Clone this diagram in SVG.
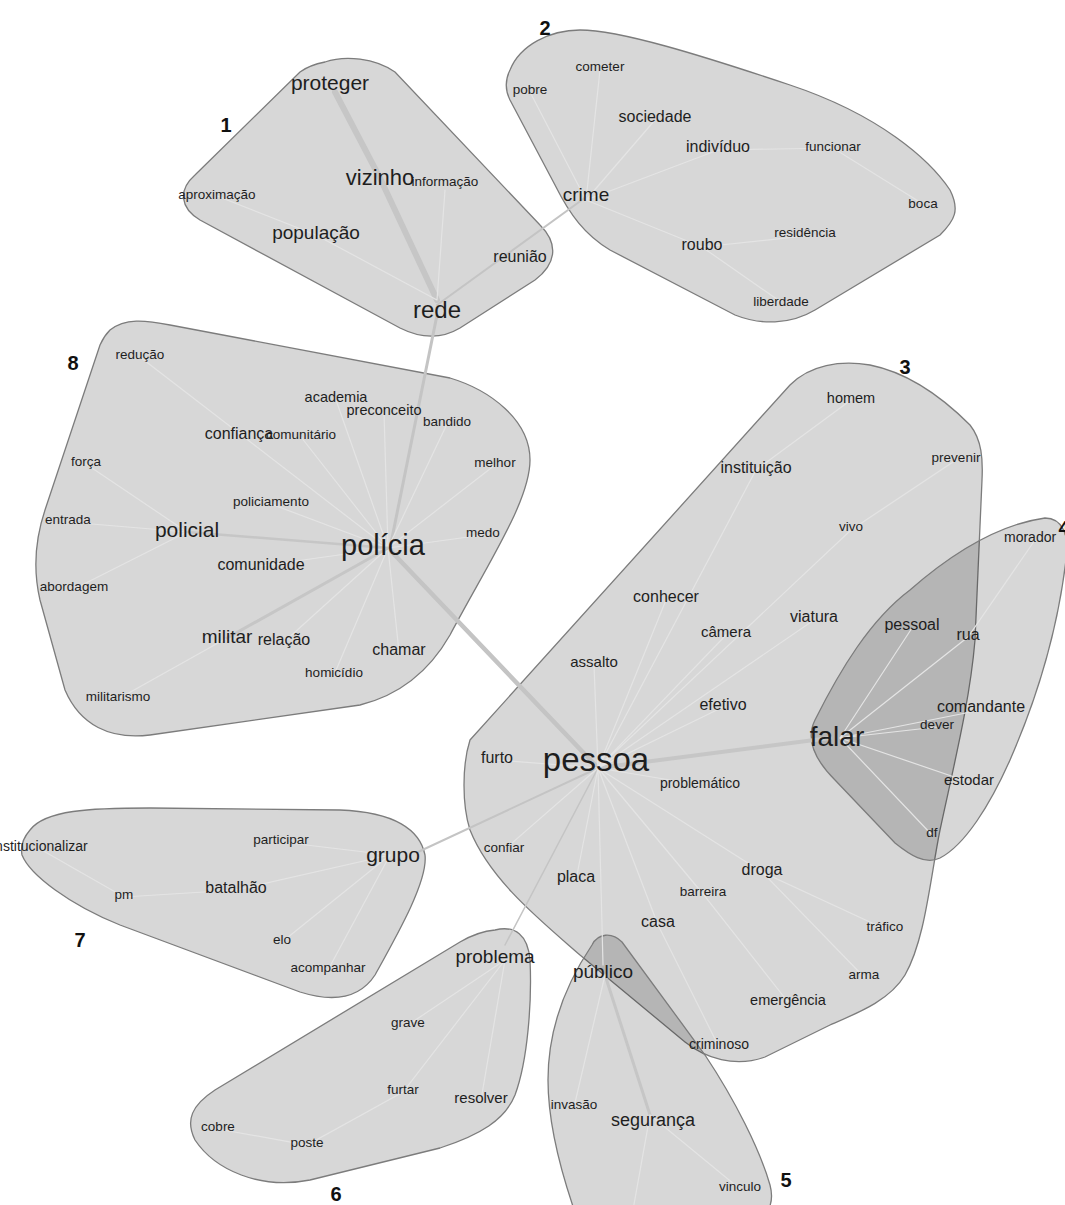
<svg xmlns="http://www.w3.org/2000/svg" width="1065" height="1205" viewBox="0 0 1065 1205">
<style>
.cl{fill:#000;fill-opacity:0.155;stroke:#7c7c7c;stroke-width:1.3}
.e{stroke:#e4e4e4;stroke-width:1.2;fill:none;stroke-linecap:round}
.t{stroke:#c6c6c6;fill:none;stroke-linecap:round}
.x{stroke:#c4c4c4;fill:none;stroke-linecap:round}
text{font-family:"Liberation Sans",Arial,sans-serif;fill:#1e1e1e;text-anchor:middle}
.s{font-size:13.5px}
.m{font-size:16px}
.num{font-size:20px;font-weight:bold;fill:#111}
</style>
<rect width="1065" height="1205" fill="#fff"/>
<g id="clusters">
<path id="c1" class="cl" d="M325,62 C345,55 375,58 395,72 L540,225 C560,245 555,265 535,280 L460,328 C440,340 420,338 400,328 L200,220 C180,208 178,190 195,175 L300,72 C308,66 315,64 325,62 Z"/>
<path id="c2" class="cl" d="M510,70 C520,45 550,30 580,30 C620,30 700,55 790,85 C880,115 930,160 950,190 C960,210 955,220 940,235 L815,310 C790,325 760,325 735,315 L610,250 C585,235 570,215 555,185 L510,100 C505,90 505,80 510,70 Z"/>
<path id="c8" class="cl" d="M110,330 C125,318 145,320 170,325 L450,378 C490,390 530,420 530,460 C530,500 490,560 450,635 C430,670 400,695 360,705 L150,735 C110,740 80,725 65,690 L40,600 C33,570 35,540 45,510 L100,345 C103,338 106,334 110,330 Z"/>
<path id="c3" class="cl" d="M470,740 L790,385 C810,365 840,360 870,365 C905,372 940,395 970,425 C982,440 983,460 982,480 L975,640 C970,700 955,760 940,830 C930,880 925,940 905,975 C890,1000 860,1012 830,1025 L765,1057 C735,1068 705,1058 685,1042 L580,955 C540,920 490,880 470,830 C462,805 462,765 470,740 Z"/>
<path id="c4" class="cl" d="M1045,518 C1062,518 1070,535 1066,560 C1060,610 1045,680 1010,760 C990,805 965,845 940,858 C925,865 910,855 895,843 L835,780 C815,760 805,740 815,720 C840,670 870,620 910,590 C950,555 995,525 1045,518 Z"/>
<path id="c5" class="cl" d="M592,945 C598,933 612,932 622,942 L705,1055 C735,1100 760,1150 770,1185 C774,1200 770,1212 760,1218 L577,1218 C560,1170 548,1120 548,1080 C548,1030 565,985 592,945 Z"/>
<path id="c6" class="cl" d="M495,930 C515,925 528,935 530,960 C532,1000 528,1060 515,1095 C505,1120 480,1135 440,1148 L310,1180 C260,1190 215,1170 195,1140 C185,1120 192,1105 215,1090 L460,942 C472,935 483,931 495,930 Z"/>
<path id="c7" class="cl" d="M30,830 C45,810 90,808 150,808 L340,810 C395,812 420,830 425,855 C428,880 400,930 375,975 C360,998 335,1003 300,992 L120,925 C70,905 30,875 22,855 C20,845 24,837 30,830 Z"/>
</g>
<g id="connectors">
<path class="x" stroke-width="2" d="M437,305 L586,197"/>
<path class="x" stroke-width="3" d="M437,315 L390,548"/>
<path class="x" stroke-width="4.5" d="M390,550 L598,768"/>
<path class="x" stroke-width="2" d="M598,768 L418,852"/>
<path class="x" stroke-width="1.5" d="M598,768 L505,945"/>
<path class="t" stroke-width="6" d="M335,92 L380,178 L437,300"/>
<path class="e" d="M437,300 L445,190 M437,300 L316,235 L217,196"/>
<path class="e" d="M586,200 L530,92 M586,200 L600,70 M586,200 L655,120 M586,200 L718,150 L833,148 L923,204 M586,200 L702,247 L805,236 M702,247 L781,302"/>
<path class="e" d="M388,548 L140,357 M388,548 L336,400 M388,548 L384,412 M388,548 L447,424 M388,548 L495,465 M388,548 L483,535 M388,548 L261,566 M388,548 L284,642 M388,548 L399,652 M388,548 L334,675 M388,548 L271,504 M388,548 L301,437 M187,532 L86,464 M187,532 L68,522 M187,532 L74,589 M227,638 L118,699"/>
<path class="t" stroke-width="2.5" d="M388,548 L187,532"/>
<path class="t" stroke-width="3" d="M388,548 L227,638"/>
<path class="t" stroke-width="4" d="M598,768 L830,738"/>
<path class="e" d="M598,768 L497,760 M598,768 L594,665 M598,768 L666,600 M598,768 L726,635 M598,768 L851,530 L956,460 M598,768 L814,620 M598,768 L723,707 M598,768 L756,470 L851,400 M598,768 L700,785 M598,768 L504,850 M598,768 L576,880 M598,768 L603,965 M598,768 L658,925 L719,1047 M598,768 L703,894 L788,1002 M598,768 L762,872 L885,929 M762,872 L864,977"/>
<path class="e" d="M840,738 L912,628 M840,738 L968,637 L1035,540 M840,738 L937,727 M840,738 L981,710 M840,738 L969,782 M840,738 L932,835"/>
<path class="t" stroke-width="3" d="M605,975 L650,1115"/>
<path class="e" d="M605,975 L574,1107 M650,1115 L740,1189 M650,1115 L633,1210"/>
<path class="e" d="M505,960 L408,1025 M505,960 L403,1092 L307,1145 L218,1129 M505,960 L481,1100"/>
<path class="e" d="M390,855 L281,842 M390,855 L236,890 L124,897 L40,849 M390,855 L282,942 M390,855 L328,970"/>
</g>
<g id="labels">
<text class="num" x="226" y="132">1</text>
<text class="num" x="545" y="35">2</text>
<text class="num" x="905" y="374">3</text>
<text class="num" x="1064" y="535">4</text>
<text class="num" x="786" y="1187">5</text>
<text class="num" x="336" y="1201">6</text>
<text class="num" x="80" y="947">7</text>
<text class="num" x="73" y="370">8</text>
</g>
<g id="n-proteger"><text x="330" y="90" font-size="21">proteger</text></g>
<g id="n-informacao"><text class="s" x="445" y="186">informação</text></g>
<g id="n-vizinho"><text x="380" y="185" font-size="22">vizinho</text></g>
<g id="n-aproximacao"><text class="s" x="217" y="199">aproximação</text></g>
<g id="n-populacao"><text x="316" y="239" font-size="19">população</text></g>
<g id="n-reuniao"><text class="m" x="520" y="262">reunião</text></g>
<g id="n-rede"><text x="437" y="318" font-size="24">rede</text></g>
<g id="n-cometer"><text class="s" x="600" y="71">cometer</text></g>
<g id="n-pobre"><text class="s" x="530" y="94">pobre</text></g>
<g id="n-sociedade"><text class="m" x="655" y="122">sociedade</text></g>
<g id="n-individuo"><text class="m" x="718" y="152">indivíduo</text></g>
<g id="n-funcionar"><text class="s" x="833" y="151">funcionar</text></g>
<g id="n-boca"><text class="s" x="923" y="208">boca</text></g>
<g id="n-crime"><text x="586" y="201" font-size="19">crime</text></g>
<g id="n-residencia"><text class="s" x="805" y="237">residência</text></g>
<g id="n-roubo"><text class="m" x="702" y="250">roubo</text></g>
<g id="n-liberdade"><text class="s" x="781" y="306">liberdade</text></g>
<g id="n-reducao"><text class="s" x="140" y="359">redução</text></g>
<g id="n-academia"><text x="336" y="402" font-size="14.5">academia</text></g>
<g id="n-preconceito"><text x="384" y="415" font-size="14.5">preconceito</text></g>
<g id="n-bandido"><text class="s" x="447" y="426">bandido</text></g>
<g id="n-confianca"><text class="m" x="239" y="439">confiança</text></g>
<g id="n-comunitario"><text class="s" x="301" y="439">comunitário</text></g>
<g id="n-forca"><text class="s" x="86" y="466">força</text></g>
<g id="n-melhor"><text class="s" x="495" y="467">melhor</text></g>
<g id="n-policiamento"><text class="s" x="271" y="506">policiamento</text></g>
<g id="n-entrada"><text class="s" x="68" y="524">entrada</text></g>
<g id="n-policial"><text x="187" y="537" font-size="21">policial</text></g>
<g id="n-policia"><text x="383" y="555" font-size="29">polícia</text></g>
<g id="n-medo"><text class="s" x="483" y="537">medo</text></g>
<g id="n-comunidade"><text class="m" x="261" y="570">comunidade</text></g>
<g id="n-abordagem"><text class="s" x="74" y="591">abordagem</text></g>
<g id="n-militar"><text x="227" y="643" font-size="19">militar</text></g>
<g id="n-relacao"><text class="m" x="284" y="645">relação</text></g>
<g id="n-chamar"><text class="m" x="399" y="655">chamar</text></g>
<g id="n-homicidio"><text class="s" x="334" y="677">homicídio</text></g>
<g id="n-militarismo"><text class="s" x="118" y="701">militarismo</text></g>
<g id="n-homem"><text x="851" y="403" font-size="14.5">homem</text></g>
<g id="n-prevenir"><text class="s" x="956" y="462">prevenir</text></g>
<g id="n-instituicao"><text class="m" x="756" y="473">instituição</text></g>
<g id="n-vivo"><text class="s" x="851" y="531">vivo</text></g>
<g id="n-morador"><text x="1004" y="542" font-size="14" style="text-anchor:start">morador</text></g>
<g id="n-conhecer"><text class="m" x="666" y="602">conhecer</text></g>
<g id="n-viatura"><text class="m" x="814" y="622">viatura</text></g>
<g id="n-camera"><text x="726" y="637" font-size="15">câmera</text></g>
<g id="n-pessoal"><text class="m" x="912" y="630">pessoal</text></g>
<g id="n-rua"><text class="m" x="968" y="640">rua</text></g>
<g id="n-assalto"><text x="594" y="667" font-size="15">assalto</text></g>
<g id="n-efetivo"><text class="m" x="723" y="710">efetivo</text></g>
<g id="n-dever"><text class="s" x="937" y="729">dever</text></g>
<g id="n-comandante"><text class="m" x="981" y="712">comandante</text></g>
<g id="n-falar"><text x="837" y="746" font-size="28">falar</text></g>
<g id="n-furto"><text class="m" x="497" y="763">furto</text></g>
<g id="n-pessoa"><text x="596" y="771" font-size="33">pessoa</text></g>
<g id="n-problematico"><text x="700" y="788" font-size="14">problemático</text></g>
<g id="n-estodar"><text x="969" y="785" font-size="15">estodar</text></g>
<g id="n-df"><text class="s" x="932" y="837">df</text></g>
<g id="n-confiar"><text class="s" x="504" y="852">confiar</text></g>
<g id="n-placa"><text class="m" x="576" y="882">placa</text></g>
<g id="n-droga"><text class="m" x="762" y="875">droga</text></g>
<g id="n-barreira"><text class="s" x="703" y="896">barreira</text></g>
<g id="n-casa"><text class="m" x="658" y="927">casa</text></g>
<g id="n-trafico"><text class="s" x="885" y="931">tráfico</text></g>
<g id="n-arma"><text class="s" x="864" y="979">arma</text></g>
<g id="n-emergencia"><text x="788" y="1005" font-size="14.5">emergência</text></g>
<g id="n-criminoso"><text x="719" y="1049" font-size="14">criminoso</text></g>
<g id="n-publico"><text x="603" y="978" font-size="19">público</text></g>
<g id="n-invasao"><text class="s" x="574" y="1109">invasão</text></g>
<g id="n-seguranca"><text x="653" y="1126" font-size="18">segurança</text></g>
<g id="n-vinculo"><text class="s" x="740" y="1191">vinculo</text></g>
<g id="n-problema"><text x="495" y="963" font-size="19">problema</text></g>
<g id="n-grave"><text class="s" x="408" y="1027">grave</text></g>
<g id="n-furtar"><text class="s" x="403" y="1094">furtar</text></g>
<g id="n-resolver"><text x="481" y="1103" font-size="15">resolver</text></g>
<g id="n-cobre"><text class="s" x="218" y="1131">cobre</text></g>
<g id="n-poste"><text class="s" x="307" y="1147">poste</text></g>
<g id="n-grupo"><text x="393" y="862" font-size="21">grupo</text></g>
<g id="n-participar"><text class="s" x="281" y="844">participar</text></g>
<g id="n-institucionalizar"><text x="-8" y="851" font-size="14" style="text-anchor:start">institucionalizar</text></g>
<g id="n-batalhao"><text class="m" x="236" y="893">batalhão</text></g>
<g id="n-pm"><text class="s" x="124" y="899">pm</text></g>
<g id="n-elo"><text class="s" x="282" y="944">elo</text></g>
<g id="n-acompanhar"><text class="s" x="328" y="972">acompanhar</text></g>
</svg>
